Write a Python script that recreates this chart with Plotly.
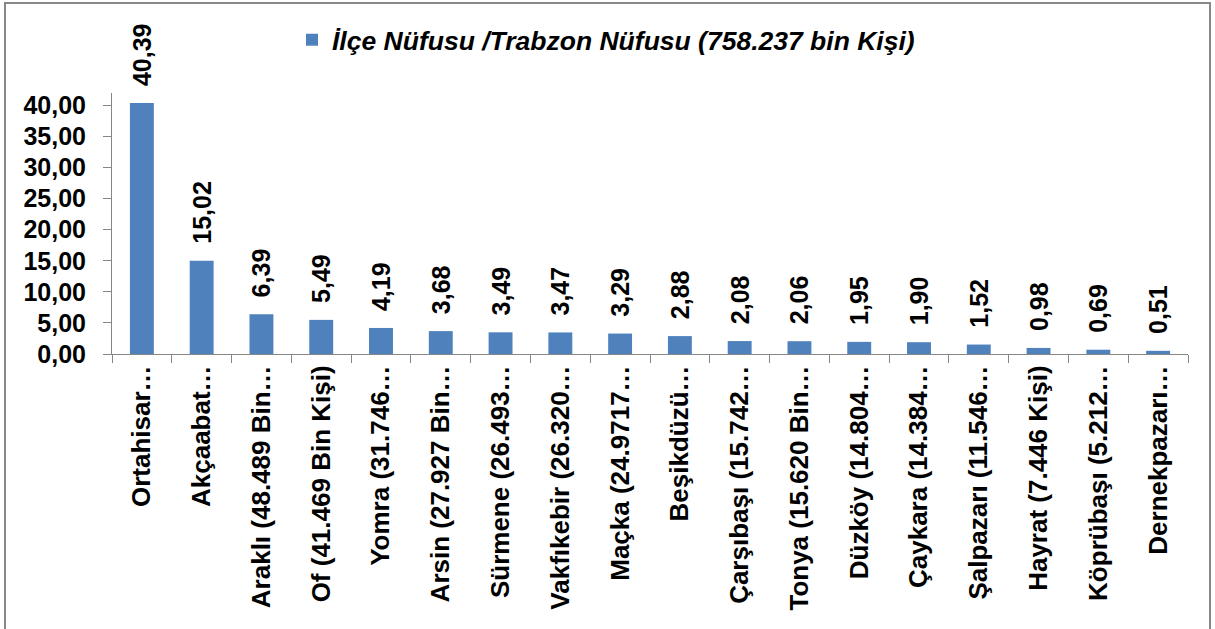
import plotly.graph_objects as go

categories = ["Ortahisar…", "Akçaabat…", "Araklı (48.489 Bin…", "Of (41.469 Bin Kişi)",
              "Yomra (31.746…", "Arsin (27.927 Bin…", "Sürmene (26.493…", "Vakfıkebir (26.320…",
              "Maçka (24.9717…", "Beşikdüzü…", "Çarşıbaşı (15.742…", "Tonya (15.620 Bin…",
              "Düzköy (14.804…", "Çaykara (14.384…", "Şalpazarı (11.546…", "Hayrat (7.446 Kişi)",
              "Köprübaşı (5.212…", "Dernekpazarı…"]
values = [40.39, 15.02, 6.39, 5.49, 4.19, 3.68, 3.49, 3.47, 3.29, 2.88, 2.08, 2.06,
          1.95, 1.90, 1.52, 0.98, 0.69, 0.51]
series_name = "<b><i>İlçe Nüfusu /Trabzon Nüfusu (758.237 bin Kişi)</i></b>"
y_ticks = [0, 5, 10, 15, 20, 25, 30, 35, 40]
y_ticklabels = [("<b>%.2f</b>" % v).replace(".", ",") for v in y_ticks]
x_ticklabels = ["<b>%s</b>" % c for c in categories]

W, H = 1215, 629
L, R, T, B = 112, 27, 93, 275
FONT = "Liberation Sans, Arial"

fig = go.Figure(go.Bar(
    x=categories, y=values, name=series_name,
    marker=dict(color="#4F81BD", line=dict(width=0)),
    texttemplate="\u00a0\u00a0<b>%{y:.2f}</b>", textposition="outside", textangle=-90,
    constraintext="none",
    textfont=dict(family=FONT, size=25, color="black"),
    cliponaxis=False, showlegend=True,
))

pw = W - L - R
ph = H - T - B
def px_x(p): return (p - L) / pw
def px_y(p): return (H - B - p) / ph

fig.update_layout(
    width=W, height=H,
    margin=dict(l=L, r=R, t=T, b=B, autoexpand=False),
    paper_bgcolor="white", plot_bgcolor="white",
    separators=",.",
    bargap=0.6,
    font=dict(family=FONT, color="black"),
    showlegend=True,
    legend=dict(x=px_x(292), y=px_y(40), xanchor="left", yanchor="middle",
                orientation="h", bgcolor="rgba(0,0,0,0)",
                font=dict(family=FONT, size=26.5, color="black"),
                itemwidth=30),
    xaxis=dict(type="category", tickangle=-90, showline=True, linecolor="#868686", linewidth=1,
               ticks="outside", tickson="boundaries", ticklen=8, tickcolor="#868686",
               tickmode="array", tickvals=categories, ticktext=x_ticklabels,
               tickfont=dict(size=26, family=FONT, color="black"),
               showgrid=False, automargin=False),
    yaxis=dict(range=[0, 42], tickmode="array", tickvals=y_ticks, ticktext=y_ticklabels,
               showline=True, linecolor="#868686", linewidth=1, ticks="outside", ticklen=8,
               tickcolor="#868686", ticklabelstandoff=12,
               tickfont=dict(size=25, family=FONT, color="black"),
               showgrid=False, zeroline=False, automargin=False),
    shapes=[dict(type="rect", xref="paper", yref="paper",
                 x0=px_x(5), x1=px_x(1210), y0=px_y(640), y1=px_y(3),
                 line=dict(color="#888888", width=2), fillcolor="rgba(0,0,0,0)")],
)

fig.write_html("out.html", config={"displayModeBar": False},
               post_script="document.body.style.margin='0';document.body.style.overflow='hidden';")
